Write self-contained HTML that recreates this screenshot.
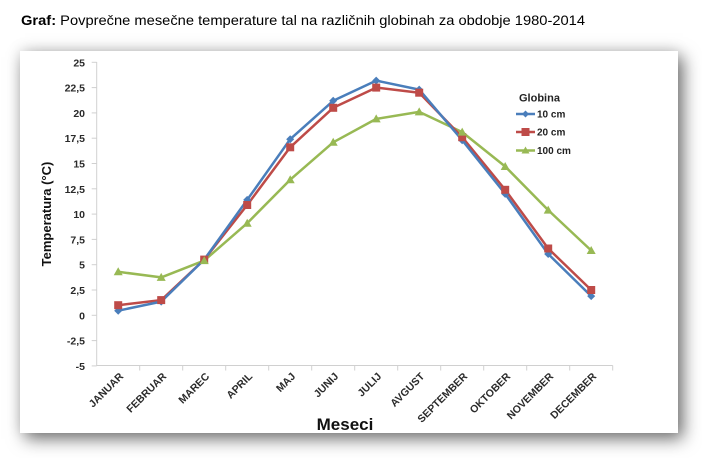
<!DOCTYPE html>
<html><head><meta charset="utf-8"><style>
html,body{margin:0;padding:0;background:#fff;}
body{width:702px;height:458px;position:relative;overflow:hidden;font-family:"Liberation Sans",sans-serif;}
.box{position:absolute;left:20px;top:51px;width:658px;height:382px;background:#fff;box-shadow:5px 6px 16px rgba(0,0,0,0.55),0 -2px 14px rgba(0,0,0,0.10);}
svg{position:absolute;left:0;top:0;}
</style></head><body>
<div class="box"></div>
<svg width="702" height="458" viewBox="0 0 702 458" xmlns="http://www.w3.org/2000/svg" font-family="Liberation Sans, sans-serif">
<text x="21" y="25" font-size="14" fill="#000" textLength="564" lengthAdjust="spacingAndGlyphs"><tspan font-weight="bold">Graf:</tspan> Povprečne mesečne temperature tal na različnih globinah za obdobje 1980-2014</text>

<!-- axes -->
<g stroke="#d0d0d0" stroke-width="1" fill="none">
<line x1="96.7" y1="62" x2="96.7" y2="366"/>
<line x1="96.7" y1="365.5" x2="612.7" y2="365.5"/>
<line x1="91.7" y1="62.3" x2="96.7" y2="62.3"/>
<line x1="91.7" y1="87.6" x2="96.7" y2="87.6"/>
<line x1="91.7" y1="112.9" x2="96.7" y2="112.9"/>
<line x1="91.7" y1="138.2" x2="96.7" y2="138.2"/>
<line x1="91.7" y1="163.5" x2="96.7" y2="163.5"/>
<line x1="91.7" y1="188.8" x2="96.7" y2="188.8"/>
<line x1="91.7" y1="214.1" x2="96.7" y2="214.1"/>
<line x1="91.7" y1="239.4" x2="96.7" y2="239.4"/>
<line x1="91.7" y1="264.7" x2="96.7" y2="264.7"/>
<line x1="91.7" y1="290.0" x2="96.7" y2="290.0"/>
<line x1="91.7" y1="315.3" x2="96.7" y2="315.3"/>
<line x1="91.7" y1="340.6" x2="96.7" y2="340.6"/>
<line x1="91.7" y1="365.9" x2="96.7" y2="365.9"/>
<line x1="139.7" y1="365.5" x2="139.7" y2="370.5"/>
<line x1="182.7" y1="365.5" x2="182.7" y2="370.5"/>
<line x1="225.7" y1="365.5" x2="225.7" y2="370.5"/>
<line x1="268.7" y1="365.5" x2="268.7" y2="370.5"/>
<line x1="311.7" y1="365.5" x2="311.7" y2="370.5"/>
<line x1="354.7" y1="365.5" x2="354.7" y2="370.5"/>
<line x1="397.7" y1="365.5" x2="397.7" y2="370.5"/>
<line x1="440.7" y1="365.5" x2="440.7" y2="370.5"/>
<line x1="483.7" y1="365.5" x2="483.7" y2="370.5"/>
<line x1="526.7" y1="365.5" x2="526.7" y2="370.5"/>
<line x1="569.7" y1="365.5" x2="569.7" y2="370.5"/>
<line x1="612.7" y1="365.5" x2="612.7" y2="370.5"/>
</g>

<!-- y labels -->
<g font-size="10.5" font-weight="bold" fill="#2a2a2a" text-anchor="end">
<text x="85" y="66.3">25</text>
<text x="85" y="91.6">22,5</text>
<text x="85" y="116.9">20</text>
<text x="85" y="142.2">17,5</text>
<text x="85" y="167.5">15</text>
<text x="85" y="192.8">12,5</text>
<text x="85" y="218.1">10</text>
<text x="85" y="243.4">7,5</text>
<text x="85" y="268.7">5</text>
<text x="85" y="294.0">2,5</text>
<text x="85" y="319.3">0</text>
<text x="85" y="344.6">-2,5</text>
<text x="85" y="369.9">-5</text>
</g>

<text transform="translate(51,214) rotate(-90)" text-anchor="middle" font-size="13" font-weight="bold" fill="#111">Temperatura (°C)</text>

<!-- x labels -->
<g font-size="10.5" font-weight="bold" fill="#2a2a2a" text-anchor="end">
<text transform="translate(124,377) rotate(-45)">JANUAR</text>
<text transform="translate(167,377) rotate(-45)">FEBRUAR</text>
<text transform="translate(210,377) rotate(-45)">MAREC</text>
<text transform="translate(253,377) rotate(-45)">APRIL</text>
<text transform="translate(296,377) rotate(-45)">MAJ</text>
<text transform="translate(339,377) rotate(-45)">JUNIJ</text>
<text transform="translate(382,377) rotate(-45)">JULIJ</text>
<text transform="translate(425,377) rotate(-45)">AVGUST</text>
<text transform="translate(468,377) rotate(-45)">SEPTEMBER</text>
<text transform="translate(511,377) rotate(-45)">OKTOBER</text>
<text transform="translate(554,377) rotate(-45)">NOVEMBER</text>
<text transform="translate(597,377) rotate(-45)">DECEMBER</text>
</g>

<text x="345" y="430" text-anchor="middle" font-size="17" font-weight="bold" fill="#111">Meseci</text>

<polyline fill="none" stroke="#98b954" stroke-width="2.5" stroke-linejoin="round"
 points="118.2,271.8 161.2,277.4 204.2,260.6 247.2,223.2 290.2,179.7 333.2,142.3 376.2,118.9 419.2,111.9 462.2,132.1 505.2,166.5 548.2,210.1 591.2,250.5"/>
<polyline fill="none" stroke="#be4b48" stroke-width="2.5" stroke-linejoin="round"
 points="118.2,305.2 161.2,300.1 204.2,259.6 247.2,205.0 290.2,147.3 333.2,107.8 376.2,87.6 419.2,92.7 462.2,137.2 505.2,189.8 548.2,248.5 591.2,290.0"/>
<polyline fill="none" stroke="#4a7ebb" stroke-width="2.5" stroke-linejoin="round"
 points="118.2,310.7 161.2,301.6 204.2,259.6 247.2,199.9 290.2,139.2 333.2,100.8 376.2,80.6 419.2,89.6 462.2,140.2 505.2,193.9 548.2,254.0 591.2,296.1"/>

<g fill="#4a7ebb">
<path d="M118.2,306.7 l4,4 -4,4 -4,-4z"/>
<path d="M161.2,297.6 l4,4 -4,4 -4,-4z"/>
<path d="M204.2,255.6 l4,4 -4,4 -4,-4z"/>
<path d="M247.2,195.9 l4,4 -4,4 -4,-4z"/>
<path d="M290.2,135.2 l4,4 -4,4 -4,-4z"/>
<path d="M333.2,96.8 l4,4 -4,4 -4,-4z"/>
<path d="M376.2,76.6 l4,4 -4,4 -4,-4z"/>
<path d="M419.2,85.6 l4,4 -4,4 -4,-4z"/>
<path d="M462.2,136.2 l4,4 -4,4 -4,-4z"/>
<path d="M505.2,189.9 l4,4 -4,4 -4,-4z"/>
<path d="M548.2,250.0 l4,4 -4,4 -4,-4z"/>
<path d="M591.2,292.1 l4,4 -4,4 -4,-4z"/>
</g>
<g fill="#be4b48">
<rect x="114.2" y="301.2" width="8" height="8"/>
<rect x="157.2" y="296.1" width="8" height="8"/>
<rect x="200.2" y="255.6" width="8" height="8"/>
<rect x="243.2" y="201.0" width="8" height="8"/>
<rect x="286.2" y="143.3" width="8" height="8"/>
<rect x="329.2" y="103.8" width="8" height="8"/>
<rect x="372.2" y="83.6" width="8" height="8"/>
<rect x="415.2" y="88.7" width="8" height="8"/>
<rect x="458.2" y="133.2" width="8" height="8"/>
<rect x="501.2" y="185.8" width="8" height="8"/>
<rect x="544.2" y="244.5" width="8" height="8"/>
<rect x="587.2" y="286.0" width="8" height="8"/>
</g>
<g fill="#98b954">
<path d="M118.2,267.3 l4.5,8 -9,0z"/>
<path d="M161.2,272.9 l4.5,8 -9,0z"/>
<path d="M204.2,256.1 l4.5,8 -9,0z"/>
<path d="M247.2,218.7 l4.5,8 -9,0z"/>
<path d="M290.2,175.2 l4.5,8 -9,0z"/>
<path d="M333.2,137.8 l4.5,8 -9,0z"/>
<path d="M376.2,114.4 l4.5,8 -9,0z"/>
<path d="M419.2,107.4 l4.5,8 -9,0z"/>
<path d="M462.2,127.6 l4.5,8 -9,0z"/>
<path d="M505.2,162.0 l4.5,8 -9,0z"/>
<path d="M548.2,205.6 l4.5,8 -9,0z"/>
<path d="M591.2,246.0 l4.5,8 -9,0z"/>
</g>

<text x="519" y="101.5" font-size="11" font-weight="bold" fill="#222">Globina</text>
<g font-size="10" font-weight="bold" fill="#222">
<line x1="516" y1="114" x2="535" y2="114" stroke="#4a7ebb" stroke-width="2.5"/>
<path d="M525.5,110.5 l3.5,3.5 -3.5,3.5 -3.5,-3.5z" fill="#4a7ebb"/>
<text x="537" y="117.5">10 cm</text>
<line x1="516" y1="132" x2="535" y2="132" stroke="#be4b48" stroke-width="2.5"/>
<rect x="521.5" y="128" width="8" height="8" fill="#be4b48"/>
<text x="537" y="135.5">20 cm</text>
<line x1="516" y1="150.5" x2="535" y2="150.5" stroke="#98b954" stroke-width="2.5"/>
<path d="M525.5,146.5 l4,7 -8,0z" fill="#98b954"/>
<text x="537" y="154">100 cm</text>
</g>
</svg>
</body></html>
